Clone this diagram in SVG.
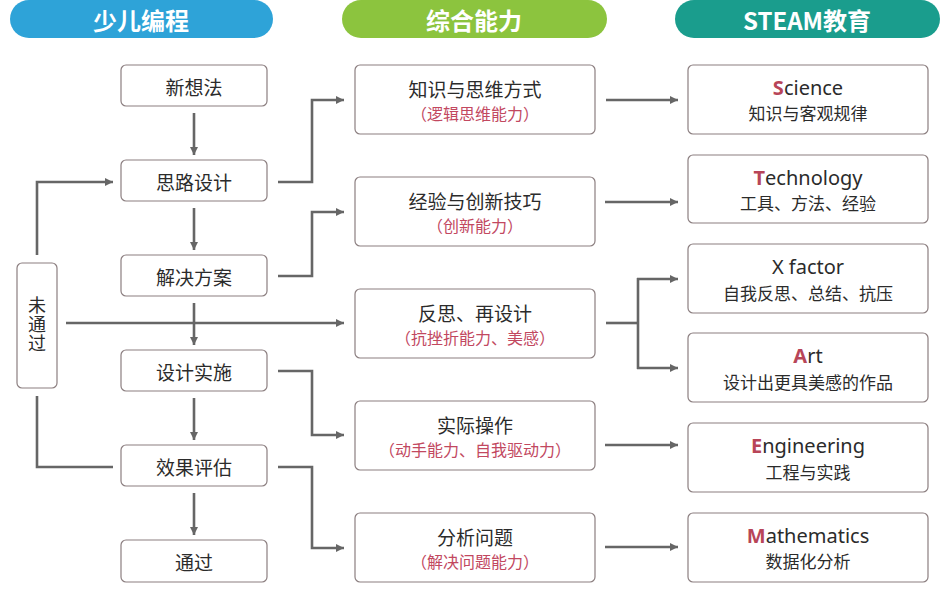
<svg xmlns="http://www.w3.org/2000/svg" width="950" height="609" viewBox="0 0 950 609">
<style>
.box{fill:#fff;stroke:#8c7f80;stroke-width:1.2}
.t{font-family:"Noto Sans CJK SC","Noto Sans",sans-serif;fill:#2b2b2b;text-anchor:middle;dominant-baseline:central}
.lt{font-size:19px}
.vt{font-family:"Noto Sans CJK SC","Noto Sans",sans-serif;fill:#2b2b2b;font-size:18px;writing-mode:vertical-rl;text-anchor:middle;letter-spacing:1px}
.mt{font-size:19px}
.ms{font-size:16px;fill:#c2485f}
.rt{font-family:"Noto Sans","Noto Sans CJK SC",sans-serif;font-size:20px}
.rs{font-size:17px}
.red{fill:#b84558;font-weight:bold}
.hd{font-family:"Noto Sans CJK SC","Noto Sans",sans-serif;font-size:24px;font-weight:bold;fill:#fff;text-anchor:middle;dominant-baseline:central}
.ln{fill:none;stroke:#666;stroke-width:2.6}
</style>
<defs>
<marker id="ah" markerUnits="userSpaceOnUse" markerWidth="9" markerHeight="9" refX="8" refY="4.5" orient="auto">
<path d="M0,0.5 L8,4.5 L0,8.5 z" fill="#666"/>
</marker>
</defs>
<rect width="950" height="609" fill="#fff"/>

<g id="hdr-left"><rect x="10" y="0" width="263" height="38" rx="19" fill="#2ea3d8"/><text class="hd" x="141" y="19">少儿编程</text></g>
<g id="hdr-mid"><rect x="342" y="0" width="265" height="38" rx="19" fill="#8cc43e"/><text class="hd" x="474" y="19">综合能力</text></g>
<g id="hdr-right"><rect x="675" y="0" width="265" height="38" rx="19" fill="#1a9d8d"/><text class="hd" x="807" y="19">STEAM教育</text></g>

<g id="connectors">
<line class="ln" x1="194" y1="113" x2="194" y2="155" marker-end="url(#ah)"/>
<line class="ln" x1="194" y1="208" x2="194" y2="250" marker-end="url(#ah)"/>
<line class="ln" x1="194" y1="303" x2="194" y2="345" marker-end="url(#ah)"/>
<line class="ln" x1="194" y1="398" x2="194" y2="440" marker-end="url(#ah)"/>
<line class="ln" x1="194" y1="493" x2="194" y2="535" marker-end="url(#ah)"/>
<polyline class="ln" points="113,467 37,467 37,396"/>
<polyline class="ln" points="37,255 37,182 113,182" marker-end="url(#ah)"/>
<line class="ln" x1="66" y1="323" x2="344" y2="323" marker-end="url(#ah)"/>
<polyline class="ln" points="278,182 312,182 312,100 344,100" marker-end="url(#ah)"/>
<polyline class="ln" points="278,276 312,276 312,212 344,212" marker-end="url(#ah)"/>
<polyline class="ln" points="278,371 312,371 312,435 344,435" marker-end="url(#ah)"/>
<polyline class="ln" points="278,467 312,467 312,548 344,548" marker-end="url(#ah)"/>
<line class="ln" x1="606" y1="100" x2="678" y2="100" marker-end="url(#ah)"/>
<line class="ln" x1="605" y1="202" x2="678" y2="202" marker-end="url(#ah)"/>
<line class="ln" x1="606" y1="323" x2="638" y2="323"/>
<line class="ln" x1="638" y1="278" x2="638" y2="369"/>
<line class="ln" x1="637" y1="279" x2="678" y2="279" marker-end="url(#ah)"/>
<line class="ln" x1="637" y1="368" x2="678" y2="368" marker-end="url(#ah)"/>
<line class="ln" x1="605" y1="445" x2="678" y2="445" marker-end="url(#ah)"/>
<line class="ln" x1="605" y1="547" x2="678" y2="547" marker-end="url(#ah)"/>
</g>

<g id="n-xinxiangfa"><rect class="box" x="121" y="65" width="146" height="41" rx="5"/><text class="t lt" x="194" y="86">新想法</text></g>
<g id="n-silusheji"><rect class="box" x="121" y="160" width="146" height="41" rx="5"/><text class="t lt" x="194" y="181">思路设计</text></g>
<g id="n-jiejuefangan"><rect class="box" x="121" y="255" width="146" height="41" rx="5"/><text class="t lt" x="194" y="276">解决方案</text></g>
<g id="n-shejishishi"><rect class="box" x="121" y="350" width="146" height="41" rx="5"/><text class="t lt" x="194" y="371">设计实施</text></g>
<g id="n-xiaoguopinggu"><rect class="box" x="121" y="445" width="146" height="41" rx="5"/><text class="t lt" x="194" y="466">效果评估</text></g>
<g id="n-tongguo"><rect class="box" x="121" y="540" width="146" height="42" rx="5"/><text class="t lt" x="194" y="561">通过</text></g>
<g id="n-weitongguo"><rect class="box" x="17" y="263" width="40" height="125" rx="5"/>
<text class="vt" x="37" y="325">未通过</text></g>

<g id="m-zhishi"><rect class="box" x="355" y="65" width="240" height="69" rx="5"/><text class="t mt" x="475" y="88">知识与思维方式</text><text class="t ms" x="475" y="113">（逻辑思维能力）</text></g>
<g id="m-jingyan"><rect class="box" x="355" y="177" width="240" height="69" rx="5"/><text class="t mt" x="475" y="200">经验与创新技巧</text><text class="t ms" x="475" y="225">（创新能力）</text></g>
<g id="m-fansi"><rect class="box" x="355" y="289" width="240" height="69" rx="5"/><text class="t mt" x="475" y="312">反思、再设计</text><text class="t ms" x="475" y="337">（抗挫折能力、美感）</text></g>
<g id="m-shiji"><rect class="box" x="355" y="401" width="240" height="69" rx="5"/><text class="t mt" x="475" y="424">实际操作</text><text class="t ms" x="475" y="449">（动手能力、自我驱动力）</text></g>
<g id="m-fenxi"><rect class="box" x="355" y="513" width="240" height="69" rx="5"/><text class="t mt" x="475" y="536">分析问题</text><text class="t ms" x="475" y="561">（解决问题能力）</text></g>

<g id="r-science"><rect class="box" x="688" y="65" width="240" height="69" rx="5"/><text class="t rt" x="808" y="87"><tspan class="red">S</tspan>cience</text><text class="t rs" x="808" y="112">知识与客观规律</text></g>
<g id="r-technology"><rect class="box" x="688" y="155" width="240" height="68" rx="5"/><text class="t rt" x="808" y="177"><tspan class="red">T</tspan>echnology</text><text class="t rs" x="808" y="202">工具、方法、经验</text></g>
<g id="r-xfactor"><rect class="box" x="688" y="244" width="240" height="69" rx="5"/><text class="t rt" x="808" y="266">X factor</text><text class="t rs" x="808" y="292">自我反思、总结、抗压</text></g>
<g id="r-art"><rect class="box" x="688" y="333" width="240" height="69" rx="5"/><text class="t rt" x="808" y="355"><tspan class="red">A</tspan>rt</text><text class="t rs" x="808" y="381">设计出更具美感的作品</text></g>
<g id="r-engineering"><rect class="box" x="688" y="423" width="240" height="69" rx="5"/><text class="t rt" x="808" y="445"><tspan class="red">E</tspan>ngineering</text><text class="t rs" x="808" y="471">工程与实践</text></g>
<g id="r-mathematics"><rect class="box" x="688" y="513" width="240" height="69" rx="5"/><text class="t rt" x="808" y="535"><tspan class="red">M</tspan>athematics</text><text class="t rs" x="808" y="560">数据化分析</text></g>
</svg>
